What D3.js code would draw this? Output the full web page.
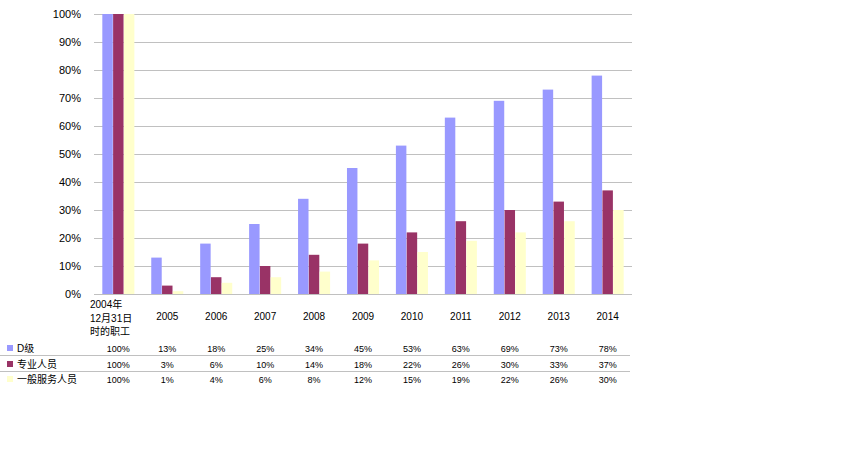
<!DOCTYPE html>
<html><head><meta charset="utf-8">
<script src="https://cdn.jsdelivr.net/npm/d3@7"></script>
<style>body{margin:0;background:#fff}svg{display:block}</style>
</head><body>
<svg id="c" width="852" height="455"></svg>
<script>
const categories = ["2004年\n12月31日\n时的职工","2005","2006","2007","2008","2009","2010","2011","2012","2013","2014"];
const seriesNames = ["D级","专业人员","一般服务人员"];
const seriesD = [100,13,18,25,34,45,53,63,69,73,78];
const seriesP = [100,3,6,10,14,18,22,26,30,33,37];
const seriesG = [100,1,4,6,8,12,15,19,22,26,30];
const yTicks = [0,10,20,30,40,50,60,70,80,90,100];
const colors = ["#9999FF","#993366","#FFFFCC"];
const series = [seriesD, seriesP, seriesG];

const svg = d3.select("#c");
const font = "'Liberation Sans', Arial, 'Noto Sans CJK SC', sans-serif";
const x = d3.scaleBand().domain(d3.range(categories.length)).range([94, 632]).paddingInner(0.345).paddingOuter(0.17);
const y = d3.scaleLinear().domain([0,100]).range([294, 14]);
const xs = d3.scaleBand().domain([0,1,2]).range([0, x.bandwidth()]).paddingInner(0.03);

// gridlines
svg.append("g").selectAll("line").data(yTicks).join("line")
  .attr("x1",94).attr("x2",632).attr("y1",d=>y(d)+0.5).attr("y2",d=>y(d)+0.5)
  .attr("stroke","#C0C0C0").attr("stroke-width",1);

// y labels
svg.append("g").selectAll("text").data(yTicks).join("text")
  .attr("x",81).attr("y",d=>y(d)+4).attr("text-anchor","end")
  .attr("font-family",font).attr("font-size","11px").attr("fill","#000")
  .text(d=>d+"%");

// bars
series.forEach((s,si)=>{
  svg.append("g").selectAll("rect").data(s).join("rect")
    .attr("x",(d,i)=>x(i)+xs(si)).attr("width",xs.bandwidth())
    .attr("y",d=>y(d)).attr("height",d=>y(0)-y(d))
    .attr("fill",colors[si]);
});

// category labels
categories.forEach((c,i)=>{
  const lines = c.split("\n");
  if (lines.length>1){
    const t = svg.append("text").attr("font-family",font).attr("font-size","10px");
    lines.forEach((l,j)=>t.append("tspan").attr("x",90).attr("y",308+j*13.5).text(l));
  } else {
    svg.append("text").attr("x",x(i)+x.bandwidth()/2).attr("y",320).attr("text-anchor","middle")
      .attr("font-family",font).attr("font-size","10px").text(c);
  }
});

// table
const rowY = [352,368,383];
[355,371].forEach(ly=>svg.append("line").attr("x1",0).attr("x2",630).attr("y1",ly+0.5).attr("y2",ly+0.5)
  .attr("stroke","#C0C0C0").attr("stroke-width",1));
series.forEach((s,si)=>{
  svg.append("rect").attr("x",7).attr("y",rowY[si]-7).attr("width",6).attr("height",6).attr("fill",colors[si]);
  svg.append("text").attr("x",17).attr("y",rowY[si]).attr("font-family",font).attr("font-size","10px").text(seriesNames[si]);
  svg.append("g").selectAll("text").data(s).join("text")
    .attr("x",(d,i)=>x(i)+x.bandwidth()/2).attr("y",rowY[si]).attr("text-anchor","middle")
    .attr("font-family",font).attr("font-size","9px").text(d=>d+"%");
});
</script>
</body></html>
